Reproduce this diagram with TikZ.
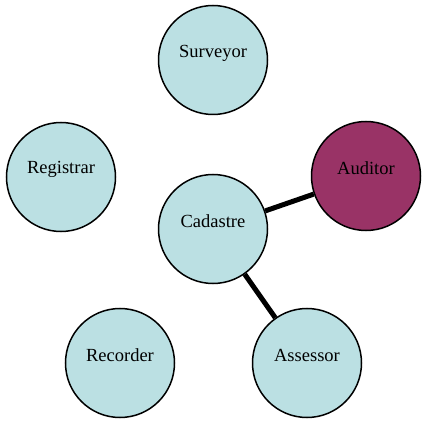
\documentclass[tikz,border=0pt]{standalone}
\usepackage{fontspec}
\setmainfont{Liberation Serif}
\definecolor{nodefill}{HTML}{BBE0E3}
\definecolor{accentfill}{HTML}{993366}
\begin{document}
\begin{tikzpicture}[x=1pt,y=-1pt,
  role/.style={circle,draw=black,line width=1.5pt,fill=nodefill,minimum size=109pt,inner sep=0pt},
  lbl/.style={font=\fontsize{18.5}{20}\selectfont,inner sep=0pt},
  link/.style={line width=5pt,black}]
  \useasboundingbox (0,0) rectangle (423,422);
  % circles
  \node[role] (surveyor) at (213,60) {};
  \node[role] (registrar) at (61,177) {};
  \node[role] (cadastre) at (213,229) {};
  \node[role,fill=accentfill] (auditor) at (366,176) {};
  \node[role] (recorder) at (120,363) {};
  \node[role] (assessor) at (307,363) {};
  % labels sit a little above the circle centres
  \node[lbl] at ([yshift=7pt]surveyor.center) {Surveyor};
  \node[lbl] at ([yshift=8pt]registrar.center) {Registrar};
  \node[lbl] at ([yshift=8pt]cadastre.center) {Cadastre};
  \node[lbl] at ([yshift=8pt]auditor.center) {Auditor};
  \node[lbl] at ([yshift=8pt]recorder.center) {Recorder};
  \node[lbl] at ([yshift=8pt]assessor.center) {Assessor};
  % links
  \draw[link] (cadastre) -- (auditor);
  \draw[link] (cadastre) -- (assessor);
\end{tikzpicture}
\end{document}
